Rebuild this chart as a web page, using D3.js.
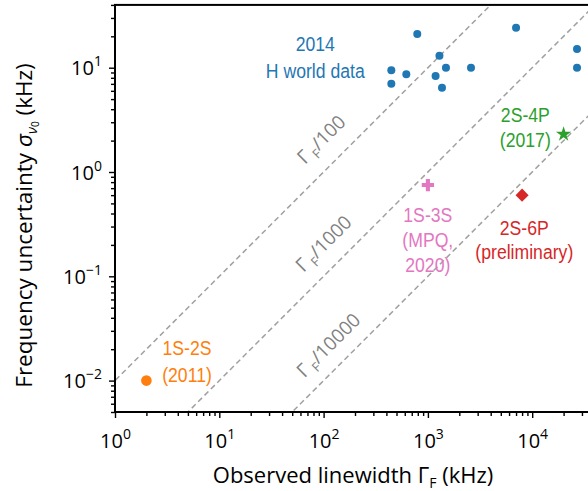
<!DOCTYPE html>
<html><head><meta charset="utf-8">
<script src="https://cdn.jsdelivr.net/npm/d3@7"></script>
<style>
html,body{margin:0;padding:0;background:#fff;}
svg{display:block;}
</style></head>
<body>
<svg id="chart" width="588" height="491"></svg>
<script>
// ---------- data ----------
const worldX = [791, 7000, 1290, 446, 621, 446, 1490, 1185, 1365, 2590, 26900, 26900];
const worldY = [21.0, 24.2, 13.0, 9.44, 8.65, 7.03, 10.0, 8.33, 6.43, 10.0, 15.1, 10.0];
const ms1s2sX = [2.0];   const ms1s2sY = [0.010];
const ms1s3sX = [1000];  const ms1s3sY = [0.75];
const ms2s4pX = [20000]; const ms2s4pY = [2.30];
const ms2s6pX = [8000];  const ms2s6pY = [0.60];
const ratioDivisors = [100, 1000, 10000];
const ratioLabels = ["/100", "/1000", "/10000"];
const xTickValues = [1, 10, 100, 1000, 10000];
const xTickExponents = ["0", "1", "2", "3", "4"];
const yTickValues = [0.01, 0.1, 1, 10];
const yTickExponents = ["\u22122", "\u22121", "0", "1"];
const xDomain = [1, 4e4];
const yDomain = [5e-3, 40];

// ---------- layout ----------
const svg = d3.select("#chart");
const dec = 104.3;
const pL = 115, pB = 412;
const x = d3.scaleLog().domain(xDomain).range([pL, pL + Math.log10(xDomain[1]/xDomain[0]) * dec]);
const y = d3.scaleLog().domain(yDomain).range([pB, pB - Math.log10(yDomain[1]/yDomain[0]) * dec]);
const pT = y.range()[1], pR = x.range()[1];

const axisFont = "'Open Sans', 'Noto Sans', sans-serif";
const annFont = "'Liberation Sans', Arial, sans-serif";

svg.append("defs").append("clipPath").attr("id", "plotclip")
  .append("rect").attr("x", pL).attr("y", pT).attr("width", pR - pL).attr("height", pB - pT);

// ---------- ratio lines ----------
const plot = svg.append("g").attr("clip-path", "url(#plotclip)");
const line = d3.line().x(d => x(d[0])).y(d => y(d[1]));
ratioDivisors.forEach(k => {
  const pts = [[0.5, 0.5 / k], [1e5, 1e5 / k]];
  plot.append("path").attr("d", line(pts)).attr("fill", "none")
    .attr("stroke", "#a0a0a0").attr("stroke-width", 1.5).attr("stroke-dasharray", "5.5,3.5");
});

// ratio labels (rotated along lines, start anchored)
const labelFoot = [88, 83, 83];
const labelOff = [18, 16.5, 15];
ratioDivisors.forEach((k, i) => {
  const xv = labelFoot[i];
  const px = x(xv), py = y(xv / k);
  const off = labelOff[i];
  const tx = px - off / Math.SQRT2, ty = py - off / Math.SQRT2;
  const t = svg.append("text").attr("transform", `translate(${tx},${ty}) rotate(-45)`)
    .attr("text-anchor", "start").attr("fill", "#808080")
    .style("font-family", axisFont).style("font-size", "19px");
  t.append("tspan").text("\u0393");
  t.append("tspan").attr("dx", 3).attr("dy", 5).style("font-size", "13px").text("F");
  t.append("tspan").attr("dy", -5).text(ratioLabels[i]);
});

// ---------- markers ----------
plot.selectAll("circle.world").data(worldX.map((v, i) => [v, worldY[i]])).enter()
  .append("circle").attr("class", "world").attr("cx", d => x(d[0])).attr("cy", d => y(d[1]))
  .attr("r", 4).attr("fill", "#1f77b4");
plot.selectAll("circle.o").data(ms1s2sX.map((v, i) => [v, ms1s2sY[i]])).enter()
  .append("circle").attr("class", "o").attr("cx", d => x(d[0])).attr("cy", d => y(d[1]))
  .attr("r", 5.3).attr("fill", "#ff7f0e");
plot.selectAll("path.p").data(ms1s3sX.map((v, i) => [v, ms1s3sY[i]])).enter()
  .append("path").attr("d", d3.symbol(d3.symbolCross).size(84)())
  .attr("transform", d => `translate(${x(d[0])},${y(d[1])})`).attr("fill", "#e377c2");
plot.selectAll("path.g").data(ms2s4pX.map((v, i) => [v, ms2s4pY[i]])).enter()
  .append("path").attr("d", d3.symbol(d3.symbolStar).size(72)())
  .attr("transform", d => `translate(${x(d[0])},${y(d[1])})`).attr("fill", "#2ca02c");
plot.selectAll("path.r").data(ms2s6pX.map((v, i) => [v, ms2s6pY[i]])).enter()
  .append("path").attr("d", d3.symbol(d3.symbolSquare).size(85)())
  .attr("transform", d => `translate(${x(d[0])},${y(d[1])}) rotate(45)`).attr("fill", "#d62728");

// ---------- annotations (condensed, one text element per annotation) ----------
function annotate(lines, xv, yv, color, spacing) {
  const t = svg.append("text").attr("text-anchor", "middle").attr("fill", color)
    .attr("transform", `translate(${x(xv)},${y(yv)}) scale(0.84,1)`)
    .style("font-family", annFont).style("font-size", "21px");
  lines.forEach((s, i) => {
    t.append("tspan").attr("x", 0).attr("y", i * spacing).text(s);
  });
}
annotate(["2014", "H world data"], 83.2, 14.6, "#1f77b4", 27.8);
annotate(["2S-4P", "(2017)"], 8590, 3.03, "#2ca02c", 25);
annotate(["1S-3S", "(MPQ,", "2020)"], 998, 0.334, "#e377c2", 25.3);
annotate(["2S-6P", "(preliminary)"], 8400, 0.249, "#d62728", 24);
annotate(["1S-2S", "(2011)"], 4.9, 0.0176, "#ff7f0e", 26.7);

// ---------- axes ----------
function isPow10(v) { const l = Math.log10(v); return Math.abs(l - Math.round(l)) < 1e-9; }
const xMinor = x.ticks(50).filter(v => !isPow10(v));
const yMinor = y.ticks(50).filter(v => !isPow10(v));

const gx = svg.append("g").attr("transform", `translate(0,${pB})`);
gx.call(d3.axisBottom(x).tickValues(xMinor).tickSize(4).tickFormat(""));
gx.select(".domain").remove();
const gx2 = svg.append("g").attr("transform", `translate(0,${pB})`);
gx2.call(d3.axisBottom(x).tickValues(xTickValues).tickSize(6).tickPadding(6));
gx2.select(".domain").remove();
gx2.selectAll(".tick text").each(function(d, i) {
  const t = d3.select(this).text(null).attr("dy", null).attr("y", 36)
    .style("font-family", axisFont).style("font-size", "20px").attr("fill", "#000");
  t.append("tspan").text("10");
  t.append("tspan").attr("dy", -9).style("font-size", "14px").text(xTickExponents[i]);
});

const gy = svg.append("g").attr("transform", `translate(${pL},0)`);
gy.call(d3.axisLeft(y).tickValues(yMinor).tickSize(4).tickFormat(""));
gy.select(".domain").remove();
const gy2 = svg.append("g").attr("transform", `translate(${pL},0)`);
gy2.call(d3.axisLeft(y).tickValues(yTickValues).tickSize(6));
gy2.select(".domain").remove();
gy2.selectAll(".tick text").each(function(d, i) {
  const t = d3.select(this).text(null).attr("dy", null).attr("x", -13).attr("y", 7)
    .style("font-family", axisFont).style("font-size", "20px").attr("fill", "#000");
  t.append("tspan").text("10");
  t.append("tspan").attr("dy", -9).style("font-size", "14px").text(yTickExponents[i]);
});
svg.selectAll(".tick line").attr("stroke", "#000").attr("stroke-width", 1.4);

// spines
svg.append("rect").attr("x", pL).attr("y", pT).attr("width", pR - pL).attr("height", pB - pT)
  .attr("fill", "none").attr("stroke", "#000").attr("stroke-width", 2);

// axis titles
const xt = svg.append("text").attr("x", 353).attr("y", 483).attr("text-anchor", "middle")
  .style("font-family", axisFont).style("font-size", "22px").attr("fill", "#000");
xt.append("tspan").text("Observed linewidth \u0393");
xt.append("tspan").attr("dy", 5).style("font-size", "14px").text("F");
xt.append("tspan").attr("dy", -5).text(" (kHz)");

const yt = svg.append("text").attr("transform", "translate(32,225.5) rotate(-90)").attr("text-anchor", "middle")
  .style("font-family", axisFont).style("font-size", "22.5px").attr("fill", "#000");
yt.append("tspan").text("Frequency uncertainty ");
yt.append("tspan").style("font-style", "italic").text("\u03c3");
yt.append("tspan").attr("dy", 5).style("font-size", "14px").style("font-style", "italic").text("\u03bd");
yt.append("tspan").attr("dy", 2).style("font-size", "10px").text("0");
yt.append("tspan").attr("dy", -7).text(" (kHz)");
</script>
</body></html>
